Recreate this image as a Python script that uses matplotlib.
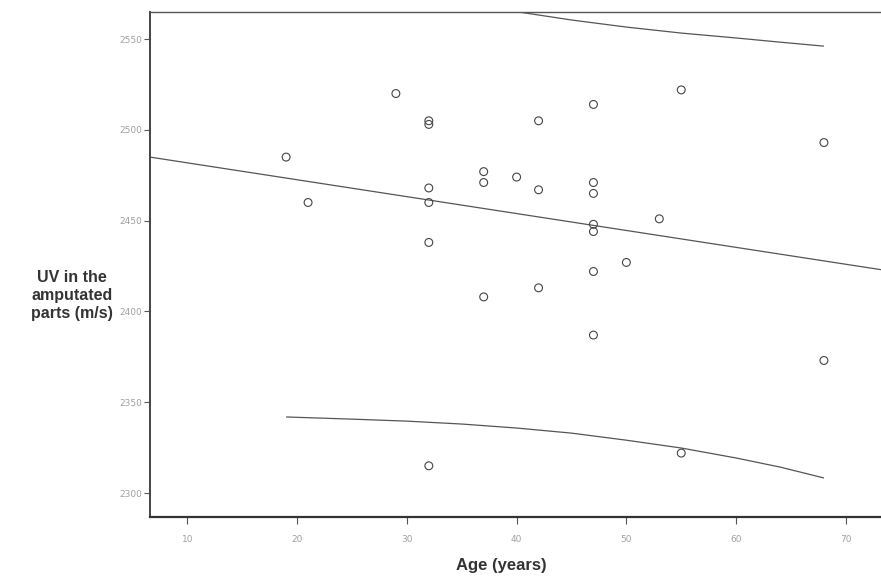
import matplotlib
matplotlib.use('Agg')
import matplotlib.pyplot as plt

# 나이별 절단부위 UV 값
age = [19, 21, 29, 32, 32, 32, 32, 32, 32, 37, 37, 37, 40, 42, 42, 42,
       47, 47, 47, 47, 47, 47, 47, 50, 53, 55, 55, 68, 68]
uv = [2485, 2460, 2520, 2505, 2503, 2468, 2460, 2438, 2315, 2477, 2471, 2408,
      2474, 2505, 2467, 2413, 2514, 2471, 2465, 2448, 2444, 2422, 2387, 2427,
      2451, 2522, 2322, 2493, 2373]

# 회귀선 (양 끝값)
fit_age = [6.6, 73.2]
fit_uv = [2485, 2423]

# 예측구간 곡선
upper_age = [39, 45, 50, 55, 60, 64, 68]
upper_uv = [2566, 2560.5, 2556.6, 2553.3, 2550.6, 2548.3, 2546.1]
lower_age = [19, 25, 30, 35, 40, 45, 50, 55, 60, 64, 68]
lower_uv = [2341.9, 2340.7, 2339.6, 2338.0, 2335.8, 2333.0, 2329.1, 2324.8,
            2319.3, 2314.3, 2308.3]

xticks = [10, 20, 30, 40, 50, 60, 70]
yticks = [2300, 2350, 2400, 2450, 2500, 2550]

fig = plt.figure(figsize=(8.81, 5.8), dpi=100)
ax = fig.add_axes([0.1703, 0.1086, 0.8297, 0.8707])

line_kw = dict(color='#555555', lw=0.9, solid_capstyle='butt')
ax.plot(fit_age, fit_uv, **line_kw)
ax.plot(upper_age, upper_uv, **line_kw)
ax.plot(lower_age, lower_uv, **line_kw)
ax.scatter(age, uv, s=32, facecolors='none', edgecolors='#444444', linewidths=0.8, zorder=3)

ax.set_xlim(6.6, 73.2)
ax.set_ylim(2286.8, 2564.9)
ax.set_xticks(xticks)
ax.set_yticks(yticks)
ax.tick_params(axis='both', direction='out', width=0.8, color='#555555',
               labelsize=6.5, labelcolor='#a0a0a0')
ax.tick_params(axis='x', length=5, pad=8)
ax.tick_params(axis='y', length=4, pad=1.5)

ax.spines['right'].set_visible(False)
ax.spines['left'].set_color('#444444')
ax.spines['left'].set_linewidth(1.4)
ax.spines['bottom'].set_color('#333333')
ax.spines['bottom'].set_linewidth(1.6)
ax.spines['top'].set_color('#555555')
ax.spines['top'].set_linewidth(1.0)

fig.text(0.5695, 0.025, 'Age (years)', ha='center', va='center', fontsize=12,
         fontweight='bold', family=['Liberation Sans Narrow', 'Liberation Sans', 'DejaVu Sans'],
         color='#333333')
fig.text(0.082, 0.491, 'UV in the\namputated\nparts (m/s)', ha='center', va='center',
         fontsize=11.5, fontweight='bold', linespacing=1.25,
         family=['Liberation Sans', 'DejaVu Sans'], color='#333333')

fig.savefig('out.png', dpi=100)
